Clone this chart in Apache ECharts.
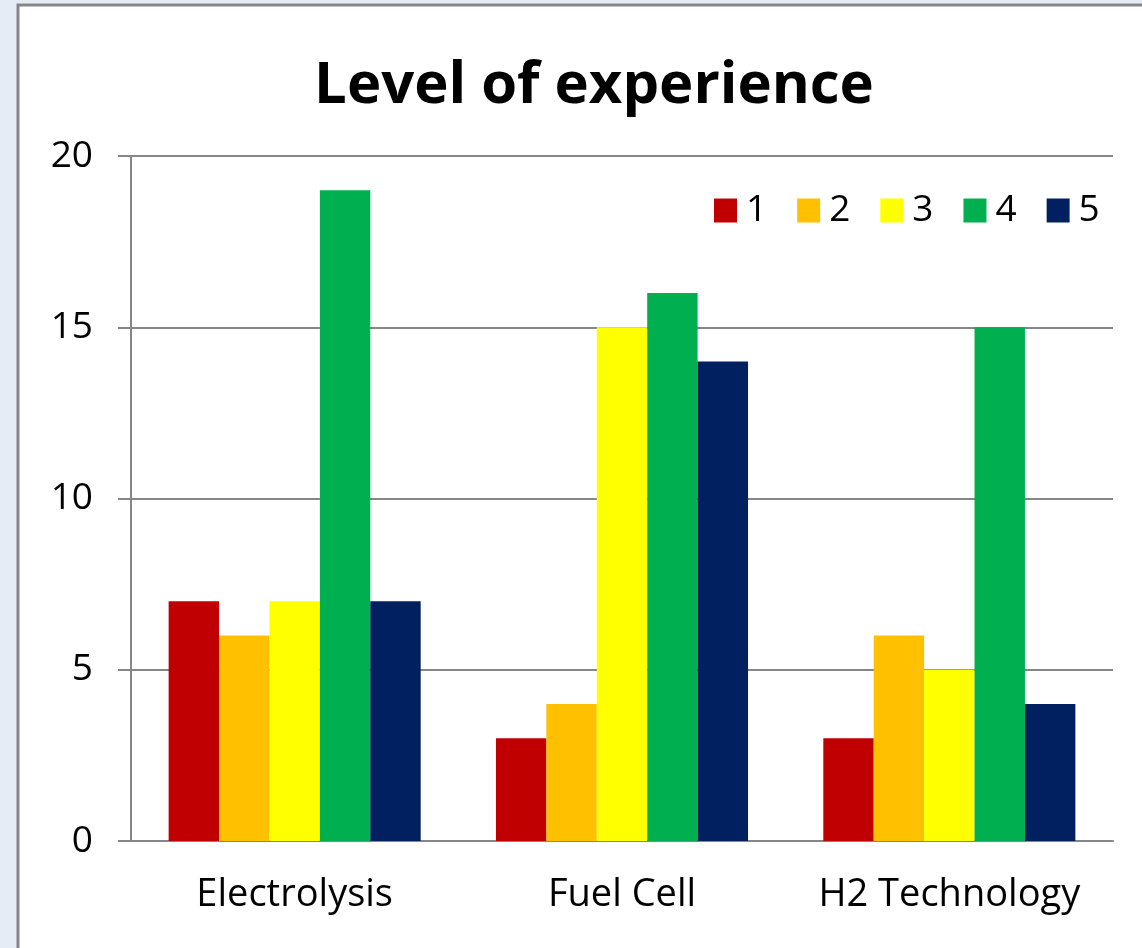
<!DOCTYPE html>
<html><head><meta charset="utf-8">
<script src="https://cdn.jsdelivr.net/npm/echarts@6/dist/echarts.min.js"></script>
<style>html,body{margin:0;padding:0;background:#e6ecf5;}#c{width:1142px;height:948px;}</style>
</head><body><div id="c"></div>
<script>
const categories = ['Electrolysis', 'Fuel Cell', 'H2 Technology'];
const seriesNames = ['1', '2', '3', '4', '5'];
const s1 = [7, 3, 3];
const s2 = [6, 4, 6];
const s3 = [7, 15, 5];
const s4 = [19, 16, 15];
const s5 = [7, 14, 4];
const yTicks = [0, 5, 10, 15, 20];
const colors = ['#C00000', '#FFC000', '#FFFF00', '#00B050', '#002060'];
const values = [s1, s2, s3, s4, s5];

const chart = echarts.init(document.getElementById('c'), null, {renderer: 'canvas'});
const font = '"Open Sans", sans-serif';
chart.setOption({
  backgroundColor: '#e6ecf5',
  animation: false,
  graphic: [{
    type: 'rect', z: -10, silent: true,
    shape: {x: 18, y: 5, width: 1200, height: 1000},
    style: {fill: '#ffffff', stroke: '#868686', lineWidth: 3}
  }],
  title: {
    text: 'Level of experience', left: 589, textAlign: 'center', top: 52,
    textStyle: {fontFamily: font, fontWeight: 'bold', fontSize: 58, color: '#000'}
  },
  legend: {
    data: seriesNames, left: 709, top: 187, itemWidth: 23, itemHeight: 24, itemGap: 30,
    icon: 'rect',
    textStyle: {fontFamily: font, fontSize: 37, color: '#000', padding: [0, 0, 0, 4]}
  },
  grid: {left: 131, right: 29, top: 156, bottom: 107},
  xAxis: {
    type: 'category', data: categories,
    axisLine: {lineStyle: {color: '#868686', width: 2}},
    axisTick: {length: 12, lineStyle: {color: '#868686', width: 2}},
    axisLabel: {fontFamily: font, fontSize: 38, color: '#000', margin: 35,
      interval: 0, hideOverlap: false}
  },
  yAxis: {
    type: 'value', min: 0, max: 20, interval: 5,
    axisLine: {show: true, lineStyle: {color: '#868686', width: 2}},
    axisTick: {show: true, length: 13, lineStyle: {color: '#868686', width: 2}},
    splitLine: {lineStyle: {color: '#868686', width: 2}},
    axisLabel: {fontFamily: font, fontSize: 37, color: '#000', margin: 38,
      formatter: v => yTicks.includes(v) ? String(v) : ''}
  },
  series: seriesNames.map((n, i) => ({
    name: n, type: 'bar', data: values[i], barGap: '0%', barCategoryGap: '23%',
    itemStyle: {color: colors[i]}
  }))
});
</script></body></html>
